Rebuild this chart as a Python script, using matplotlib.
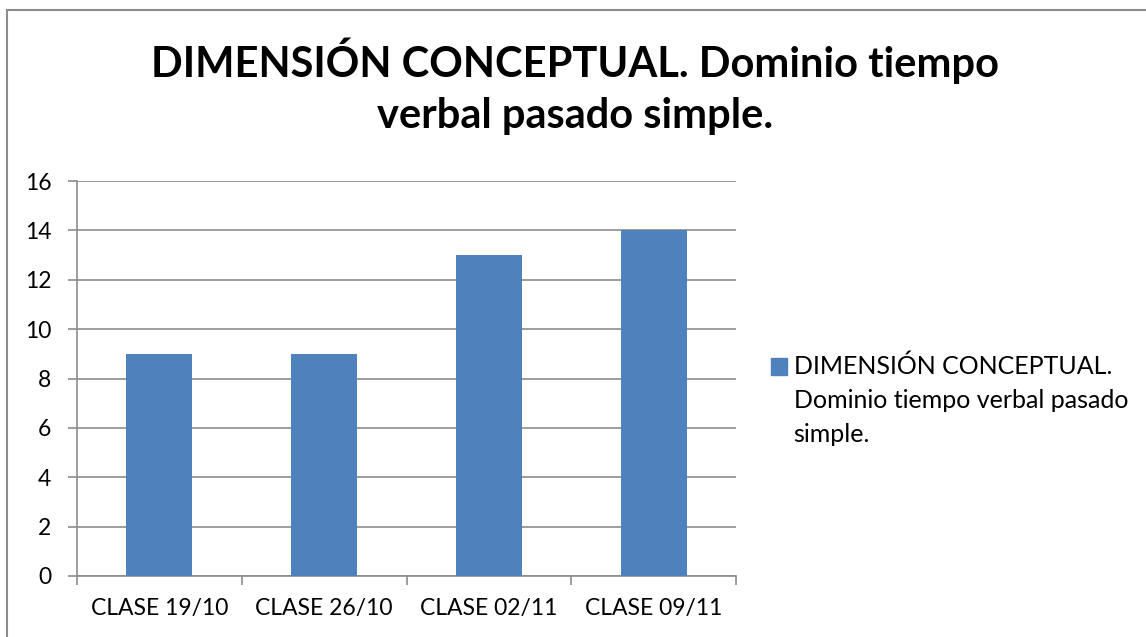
import matplotlib
matplotlib.use("Agg")
import matplotlib.pyplot as plt
from matplotlib.patches import Rectangle
from matplotlib.lines import Line2D

plt.rcParams['font.family'] = ['Lato', 'DejaVu Sans']

categories = ["CLASE 19/10", "CLASE 26/10", "CLASE 02/11", "CLASE 09/11"]
values = [9, 9, 13, 14]
series_name = "DIMENSIÓN CONCEPTUAL.\nDominio tiempo verbal pasado\nsimple."
title = "DIMENSIÓN CONCEPTUAL. Dominio tiempo\nverbal pasado simple."
yticks = [0, 2, 4, 6, 8, 10, 12, 14, 16]

W, H = 1146, 637
fig = plt.figure(figsize=(W / 100, H / 100), dpi=100)

# outer chart border (top and left visible)
fig.add_artist(Line2D([7 / W, 7 / W], [0, 1 - 10 / H], transform=fig.transFigure,
                      color="#8c8c8c", lw=1.5))
fig.add_artist(Line2D([7 / W, 1], [1 - 10 / H, 1 - 10 / H], transform=fig.transFigure,
                      color="#8c8c8c", lw=1.5))

ax = fig.add_axes([77 / W, 1 - 576 / H, (736 - 77) / W, (576 - 181) / H])
color = "#4F81BD"
x = list(range(len(categories)))
ax.bar(x, values, width=0.4, color=color, label=series_name, zorder=3)
ax.set_xlim(-0.5, len(categories) - 0.5)
ax.set_ylim(0, 16)
ax.set_yticks(yticks)
ax.set_yticklabels([str(v) for v in yticks])
ax.set_xticks(x)
ax.set_xticklabels(categories)
ax.set_xticks([i - 0.5 for i in range(len(categories) + 1)], minor=True)

grid_c = "#8c8c8c"
ax.yaxis.grid(True, color=grid_c, lw=1.2, zorder=0)
for s in ["top", "right"]:
    ax.spines[s].set_visible(False)
ax.spines["left"].set_color(grid_c)
ax.spines["bottom"].set_color(grid_c)
ax.spines["left"].set_linewidth(1.2)
ax.spines["bottom"].set_linewidth(1.2)
ax.tick_params(axis="y", length=6.5, width=1.2, color=grid_c, labelsize=16.5, pad=12)
ax.tick_params(axis="x", which="major", length=0, labelsize=16.5, pad=16)
ax.tick_params(axis="x", which="minor", length=6.5, width=1.2, color=grid_c)

fig.text(0.502, 1 - 37 / H, title, ha="center", va="top", fontsize=30,
         fontweight="bold", linespacing=1.43)

# legend
line_gap = 1.6
leg = ax.legend(handles=[Rectangle((0, 0), 1, 1, color=color)], labels=[series_name],
                loc="upper left", bbox_to_anchor=(1.053, 0.562), frameon=False,
                fontsize=18, handlelength=0.66, handleheight=0.66, handletextpad=0.25,
                borderaxespad=0, borderpad=0)
for t in leg.get_texts():
    t.set_linespacing(line_gap)
# align the marker with the first text line
for h in leg.legend_handles:
    h.set_y(h.get_y() + 25)

fig.savefig("out.png", dpi=100)
